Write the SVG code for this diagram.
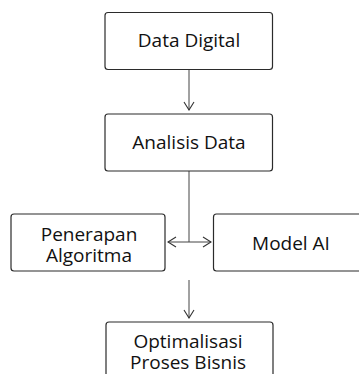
<svg xmlns="http://www.w3.org/2000/svg" width="359" height="374" viewBox="0 0 359 374">
  <style>
    .box { fill: #ffffff; stroke: #2b2b2b; stroke-width: 1.2; }
    .label { font-family: "Open Sans", "Noto Sans", "DejaVu Sans", sans-serif; font-size: 19px; fill: #111111; text-anchor: middle; }
    .edge { fill: none; stroke: #444444; stroke-width: 1; }
  </style>
  <defs>
    <marker id="chev" viewBox="0 0 10 12" refX="9" refY="6" markerWidth="10" markerHeight="12" markerUnits="userSpaceOnUse" orient="auto-start-reverse">
      <path d="M1,1 L9,6 L1,11" fill="none" stroke="#333333" stroke-width="1.1"/>
    </marker>
  </defs>
  <rect width="359" height="374" fill="#ffffff"/>

  <g id="connectors">
    <line class="edge" x1="189" y1="69" x2="189" y2="110" marker-end="url(#chev)"/>
    <line class="edge" x1="189" y1="171" x2="189" y2="242"/>
    <line class="edge" x1="168" y1="242" x2="211" y2="242" marker-start="url(#chev)" marker-end="url(#chev)"/>
    <line class="edge" x1="189" y1="280" x2="189" y2="318" marker-end="url(#chev)"/>
  </g>

  <g id="data-digital">
    <rect class="box" x="105" y="12.5" width="167.5" height="57" rx="3"/>
    <text class="label" x="189" y="46.5">Data Digital</text>
  </g>

  <g id="analisis-data">
    <rect class="box" x="105" y="114" width="167.5" height="57" rx="3"/>
    <text class="label" x="189" y="148.5">Analisis Data</text>
  </g>

  <g id="penerapan-algoritma">
    <rect class="box" x="11" y="214" width="154" height="57" rx="3"/>
    <text class="label" x="89" y="240.5">Penerapan</text>
    <text class="label" x="89" y="261.5">Algoritma</text>
  </g>

  <g id="model-ai">
    <rect class="box" x="213.5" y="214" width="154" height="57" rx="3"/>
    <text class="label" x="291" y="249.5">Model AI</text>
  </g>

  <g id="optimalisasi">
    <rect class="box" x="106" y="322" width="167" height="57" rx="3"/>
    <text class="label" x="188" y="347.5">Optimalisasi</text>
    <text class="label" x="188" y="368.5">Proses Bisnis</text>
  </g>
</svg>
